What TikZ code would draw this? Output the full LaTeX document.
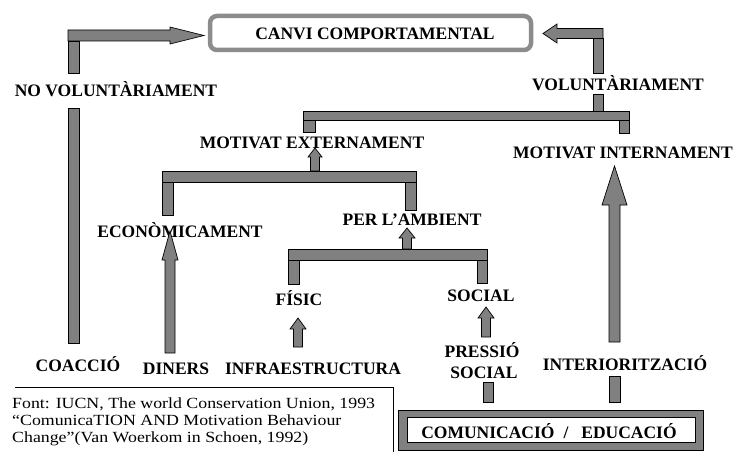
\documentclass[tikz,border=0pt]{standalone}
\usepackage{fontspec}
\setmainfont{Liberation Serif}
\newfontfamily\notefont[FakeStretch=1.15]{Liberation Serif}
\definecolor{barfill}{HTML}{808080}
\definecolor{boxgray}{HTML}{8C8C8C}
% block arrow pointing up: x, tip, head base, bottom, head half width, shaft half width
\newcommand\uparr[6]{%
  \draw[bar] (#1,#2) -- (#1+#5,#3) -- (#1+#6,#3) -- (#1+#6,#4) -- (#1-#6,#4) -- (#1-#6,#3) -- (#1-#5,#3) -- cycle;}
\begin{document}
\begin{tikzpicture}[
  x=1pt, y=-1pt,
  lbl/.style={font=\fontsize{17.5}{20}\selectfont\bfseries, anchor=base, inner sep=0pt},
  notetext/.style={font=\notefont\fontsize{15.5}{17}\selectfont, anchor=base west, inner sep=0pt},
  bar/.style={draw=black, fill=barfill, line width=0.7pt},
  topbox/.style={draw=boxgray, line width=4.5pt, rounded corners=7pt, fill=white},
  notebox/.style={draw=black, line width=0.8pt}
]
\clip (0,0) rectangle (737,452);
\fill[white] (0,0) rectangle (737,452);

% Goal box
\draw[topbox] (210,16) rectangle (531,50);
\node[lbl] (canvi) at (375,39.5) {CANVI COMPORTAMENTAL};

% Left branch: no voluntariament
\draw[bar] (68,30) -- (170,30) -- (170,27) -- (204,35.5) -- (170,44) -- (170,41) -- (68,41) -- cycle;
\draw[bar] (68,41) rectangle (79,73);
\node[lbl] (novol) at (116,97) {NO VOLUNTÀRIAMENT};
\draw[bar] (68,108) rectangle (79,343);
\node[lbl] (coac) at (78,371) {COACCIÓ};

% Right branch: voluntariament
\draw[bar] (603,28.5) -- (557,28.5) -- (557,24) -- (543,33.5) -- (557,43) -- (557,38.5) -- (603,38.5) -- cycle;
\draw[bar] (593,38.5) rectangle (603,73);
\node[lbl] (vol) at (618,91) {VOLUNTÀRIAMENT};
\draw[bar] (593,94) rectangle (603,111);
\draw[bar] (303,111) rectangle (629,120);
\draw[bar] (303,120) rectangle (315,132);
\draw[bar] (619,120) rectangle (629,133);

% Motivat externament
\node[lbl] (mext) at (312,149) {MOTIVAT EXTERNAMENT};
\uparr{315}{148}{157}{171}{7}{4.5}
\draw[bar] (162,171) rectangle (416,182);
\draw[bar] (162,182) rectangle (173,215);
\draw[bar] (405,182) rectangle (416,210);

\node[lbl] (econ) at (180,237) {ECONÒMICAMENT};
\uparr{170}{231}{260}{353}{8}{5}
\node[lbl] (din) at (176,374) {DINERS};

\node[lbl] (amb) at (412,225) {PER L’AMBIENT};
\uparr{407}{228}{238}{249}{8}{4.5}
\draw[bar] (288,249) rectangle (487,260);
\draw[bar] (288,260) rectangle (299,284);
\draw[bar] (477,260) rectangle (487,283);

\node[lbl] (fis) at (299,305) {FÍSIC};
\uparr{298}{318}{329}{347}{8}{4.5}
\node[lbl] (infra) at (313,374) {INFRAESTRUCTURA};

\node[lbl] (soc) at (481,301) {SOCIAL};
\uparr{486}{307}{318}{337}{8}{4.5}
\node[lbl] (press) at (482,357) {PRESSIÓ};
\node[lbl] (press2) at (484,378) {SOCIAL};
\draw[bar] (483,382) rectangle (493,402);

% Motivat internament
\node[lbl] (mint) at (623,158) {MOTIVAT INTERNAMENT};
\uparr{614.5}{166}{205}{342}{12.5}{5.5}
\node[lbl] (inter) at (625,370) {INTERIORITZACIÓ};
\draw[bar] (609,376) rectangle (620,402);

% Source box
\draw[bar] (398,410) rectangle (703,450);
\draw[draw=black, fill=white, line width=0.7pt] (407,417) rectangle (695,442);
\node[lbl] (com) at (549,438) {COMUNICACIÓ\hspace{9pt}/\hspace{13pt}EDUCACIÓ};

% Reference note
\draw[notebox] (15,387) -- (393,387) -- (393,460);
\node[notetext] (note1) at (12,408) {Font: IUCN, The world Conservation Union, 1993};
\node[notetext] (note2) at (12,425) {“ComunicaTION AND Motivation Behaviour};
\node[notetext] (note3) at (12,442) {Change”(Van Woerkom in Schoen, 1992)};
\end{tikzpicture}
\end{document}
